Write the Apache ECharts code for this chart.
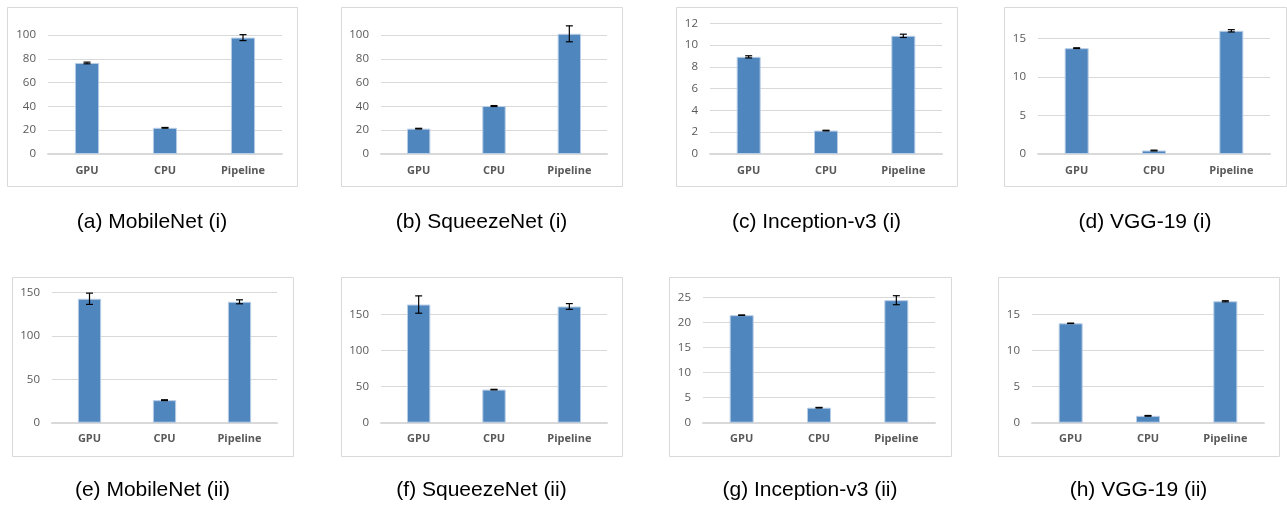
<!DOCTYPE html>
<html>
<head>
<meta charset="utf-8">
<script src="https://cdn.jsdelivr.net/npm/echarts@6/dist/echarts.min.js"></script>
<style>
html,body{margin:0;padding:0;background:#fff;}
#c{width:1287px;height:507px;}
</style>
</head>
<body>
<div id="c"></div>
<script>
// ---- data ----
const categories = ['GPU', 'CPU', 'Pipeline'];

const mobilenetI = [76.5, 22.0, 97.8];
const mobilenetIErr = [0.7, 0.3, 2.5];
const squeezenetI = [21.3, 40.3, 101.0];
const squeezenetIErr = [0.3, 0.4, 6.7];
const inceptionI = [8.92, 2.15, 10.85];
const inceptionIErr = [0.1, 0.03, 0.15];
const vggI = [13.72, 0.45, 15.97];
const vggIErr = [0.05, 0.05, 0.15];

const mobilenetII = [143.0, 26.0, 139.5];
const mobilenetIIErr = [6.5, 0.5, 2.3];
const squeezenetII = [163.5, 45.8, 160.8];
const squeezenetIIErr = [12.0, 0.4, 4.0];
const inceptionII = [21.5, 3.0, 24.5];
const inceptionIIErr = [0.05, 0.06, 0.9];
const vggII = [13.75, 0.95, 16.8];
const vggIIErr = [0.03, 0.05, 0.08];

const captions = ['(a) MobileNet (i)', '(b) SqueezeNet (i)', '(c) Inception-v3 (i)', '(d) VGG-19 (i)',
                  '(e) MobileNet (ii)', '(f) SqueezeNet (ii)', '(g) Inception-v3 (ii)', '(h) VGG-19 (ii)'];
const axisMax = [100, 100, 12, 15, 150, 150, 25, 15];
const axisStep = [20, 20, 2, 5, 50, 50, 5, 5];

const values = [mobilenetI, squeezenetI, inceptionI, vggI, mobilenetII, squeezenetII, inceptionII, vggII];
const errors = [mobilenetIErr, squeezenetIErr, inceptionIErr, vggIErr, mobilenetIIErr, squeezenetIIErr, inceptionIIErr, vggIIErr];

// ---- layout (pixels) ----
// plot area: [x0, x1, yTop(max gridline), yZero]
const plots = [
  [48, 282, 35, 154], [381, 607, 35, 154], [710, 942, 23.3, 154], [1038, 1270, 38.3, 154],
  [52, 277, 292.7, 422.7], [381, 607, 314.3, 422.7], [703, 935, 297.7, 422.7], [1032, 1264, 314.3, 422.7]
];
// boxes: [x0, x1, y0, y1]
const boxes = [
  [7, 297, 7, 186], [341, 622, 7, 186], [676, 957, 7, 186], [1004, 1286, 7, 186],
  [12, 293, 277, 456], [341, 622, 277, 456], [669, 951, 277, 456], [998, 1279, 277, 456]
];
const captionY = [222, 222, 222, 222, 490, 490, 490, 490];

const W = 1287, H = 507;
const grids = [], xAxes = [], yAxes = [], series = [], graphics = [];

for (let i = 0; i < 8; i++) {
  const p = plots[i], b = boxes[i];
  graphics.push({
    type: 'rect', silent: true, z: -1,
    shape: { x: b[0] + 0.5, y: b[2] + 0.5, width: b[1] - b[0], height: b[3] - b[2] },
    style: { fill: '#fff', stroke: '#d9d9d9', lineWidth: 1 }
  });
  graphics.push({
    type: 'text', silent: true,
    x: (b[0] + b[1]) / 2, y: captionY[i],
    style: {
      text: captions[i], fill: '#000', font: '21px "Liberation Sans", Arial, sans-serif',
      textAlign: 'center', textVerticalAlign: 'middle'
    }
  });
  grids.push({ left: p[0], top: p[2], width: p[1] - p[0], height: p[3] - p[2], containLabel: false });
  xAxes.push({
    type: 'category', gridIndex: i, data: categories,
    axisTick: { show: false },
    axisLine: { lineStyle: { color: '#d9d9d9', width: 2 } },
    axisLabel: {
      color: '#595959', fontWeight: 'bold', fontSize: 11,
      fontFamily: '"Open Sans", sans-serif', margin: 11
    }
  });
  yAxes.push({
    type: 'value', gridIndex: i, min: 0, max: axisMax[i], interval: axisStep[i],
    axisLine: { show: false }, axisTick: { show: false },
    splitLine: { lineStyle: { color: '#d9d9d9', width: 1 } },
    axisLabel: { color: '#595959', fontSize: 11.5, fontFamily: '"Open Sans", sans-serif', margin: 12 }
  });
  series.push({
    type: 'bar', xAxisIndex: i, yAxisIndex: i, data: values[i], barWidth: '31%', clip: false,
    itemStyle: { color: '#4f86be', borderColor: '#b8cde6', borderWidth: 1 },
    silent: true, animation: false, z: 2
  });
  series.push({
    type: 'custom', xAxisIndex: i, yAxisIndex: i, clip: false, silent: true, animation: false, z: 5,
    data: values[i].map((v, k) => [k, v - errors[i][k], v + errors[i][k]]),
    encode: { x: 0, y: [1, 2] },
    renderItem: function (params, api) {
      const lo = api.coord([api.value(0), api.value(1)]);
      const hi = api.coord([api.value(0), api.value(2)]);
      const cap = 3.5;
      const st = { stroke: '#000', lineWidth: 1.2, fill: null };
      return {
        type: 'group', children: [
          { type: 'line', shape: { x1: lo[0], y1: lo[1], x2: hi[0], y2: hi[1] }, style: st },
          { type: 'line', shape: { x1: lo[0] - cap, y1: lo[1], x2: lo[0] + cap, y2: lo[1] }, style: st },
          { type: 'line', shape: { x1: hi[0] - cap, y1: hi[1], x2: hi[0] + cap, y2: hi[1] }, style: st }
        ]
      };
    }
  });
}

const chart = echarts.init(document.getElementById('c'), null, { renderer: 'canvas', width: W, height: H });
chart.setOption({
  animation: false,
  backgroundColor: '#fff',
  grid: grids, xAxis: xAxes, yAxis: yAxes, series: series,
  graphic: graphics
});
</script>
</body>
</html>
